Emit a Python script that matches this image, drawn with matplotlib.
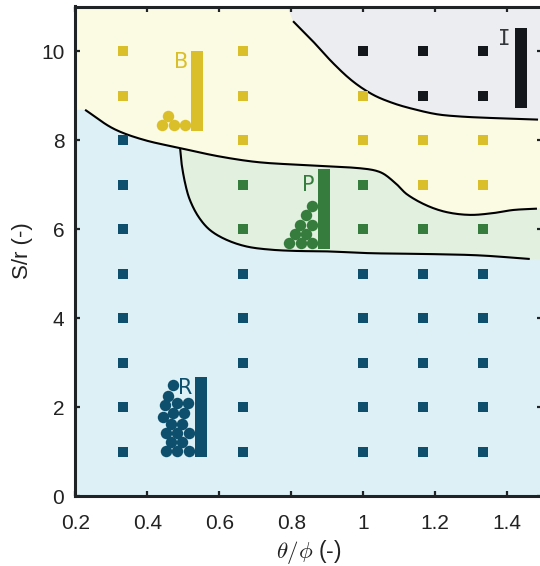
import numpy as np
import matplotlib
matplotlib.use("Agg")
import matplotlib.pyplot as plt

plt.rcParams['font.family'] = ['Liberation Sans', 'DejaVu Sans']
plt.rcParams['mathtext.fontset'] = 'cm'

W, H = 540, 566
XMAX = 1.497

C_R, C_P, C_B, C_I = '#0D4F6C', '#367C3D', '#DBBF2A', '#14171B'
BG_R, BG_P, BG_B, BG_I = '#DCF0F5', '#E2F0DF', '#FBFAE3', '#ECEDF0'

# Regime grid
rows_x = [1/3, 2/3, 1.0, 7/6, 4/3]
R_y = [[1, 2, 3, 4, 5, 6, 7, 8], [1, 2, 3, 4, 5], [1, 2, 3, 4, 5], [1, 2, 3, 4, 5], [1, 2, 3, 4, 5]]
P_y = [[], [6, 7], [6, 7], [6], [6]]
B_y = [[9, 10], [8, 9, 10], [8, 9], [7, 8], [7, 8]]
I_y = [[], [], [10], [9, 10], [9, 10]]

# Regime boundaries
upper_x = [.227, .305, .388, .491, .602, .713, .860, 1.0, 1.05, 1.09, 1.122, 1.177, 1.233, 1.297, 1.361, 1.417, 1.483]
upper_y = [8.68, 8.26, 8.01, 7.82, 7.63, 7.50, 7.43, 7.36, 7.27, 7.03, 6.78, 6.53, 6.38, 6.32, 6.36, 6.43, 6.46]
lower_x = [.491, .495, .505, .518, .542, .574, .620, .676, .741, .815, .9, 1.019, 1.186, 1.324, 1.463]
lower_y = [7.82, 7.48, 7.03, 6.66, 6.28, 5.98, 5.76, 5.61, 5.54, 5.51, 5.50, 5.46, 5.44, 5.41, 5.33]
top_x = [.805, .86, .916, .971, 1.027, 1.083, 1.138, 1.205, 1.269, 1.344, 1.486]
top_y = [10.67, 10.22, 9.73, 9.32, 9.02, 8.83, 8.70, 8.58, 8.53, 8.50, 8.46]

# Scale bars: x0, x1, y0, y1
bar_R = (.532, .565, .88, 2.69)
bar_P = (.874, .907, 5.56, 7.35)
bar_B = (.521, .555, 8.21, 10.0)
bar_I = (1.421, 1.455, 8.72, 10.52)

# Particle sketches
circ_B_x = [.457, .441, .474, .504]
circ_B_y = [8.53, 8.33, 8.33, 8.34]
circ_P_x = [.857, .840, .824, .858, .810, .841, .794, .827, .857]
circ_P_y = [6.52, 6.31, 6.10, 6.10, 5.89, 5.89, 5.69, 5.69, 5.69]
circ_R_x = [.472, .457, .449, .482, .514, .443, .472, .502, .466, .497, .451, .482, .515, .467, .497, .451, .483, .515]
circ_R_y = [2.49, 2.26, 2.04, 2.09, 2.09, 1.79, 1.87, 1.87, 1.63, 1.63, 1.42, 1.42, 1.42, 1.22, 1.22, 1.01, 1.01, 1.01]

xticks = [0.2, 0.4, 0.6, 0.8, 1.0, 1.2, 1.4]
xticklabels = ['0.2', '0.4', '0.6', '0.8', '1', '1.2', '1.4']
yticks = [0, 2, 4, 6, 8, 10]


def smooth(x, y, n=16):
    """Chord-parameterised cubic rendering of a hand-read boundary."""
    x, y = np.asarray(x, float), np.asarray(y, float)
    sx, sy = 360.0, 44.5
    p = np.column_stack([x * sx, y * sy])
    d = np.hypot(*np.diff(p, axis=0).T)
    m = np.zeros_like(p)
    m[1:-1] = (p[2:] - p[:-2]) / (d[1:] + d[:-1])[:, None]
    m[0] = (p[1] - p[0]) / d[0]
    m[-1] = (p[-1] - p[-2]) / d[-1]
    t = np.linspace(0, 1, n, endpoint=False)[:, None]
    out = []
    for i in range(len(p) - 1):
        h = d[i]
        out.append((2*t**3-3*t**2+1)*p[i] + (t**3-2*t**2+t)*h*m[i]
                   + (-2*t**3+3*t**2)*p[i+1] + (t**3-t**2)*h*m[i+1])
    out.append(p[-1][None])
    out = np.vstack(out)
    return out[:, 0] / sx, out[:, 1] / sy


fig = plt.figure(figsize=(W/100, H/100), dpi=100)
ax = fig.add_axes([75.4/W, 1-496.3/H, (542-75.4)/W, (496.3-6.5)/H])
ax.set_xlim(0.2, XMAX)
ax.set_ylim(0, 11)
ax.set_facecolor(BG_R)

ux, uy = smooth(upper_x, upper_y)
lx, ly = smooth(lower_x, lower_y)
tx, ty = smooth(top_x, top_y)

ax.fill(np.r_[.2, .2, ux, XMAX, XMAX], np.r_[11, upper_y[0], uy, uy[-1], 11], color=BG_B, lw=0, zorder=1)
m = ux >= lower_x[0]
ax.fill(np.r_[ux[m], XMAX, XMAX, lx[::-1]], np.r_[uy[m], uy[-1], ly[-1], ly[::-1]], color=BG_P, lw=0, zorder=1)
ax.fill(np.r_[.789, tx, XMAX, XMAX], np.r_[11, ty, ty[-1], 11], color=BG_I, lw=0, zorder=1)

for cx, cy in [(ux, uy), (lx, ly), (tx, ty)]:
    ax.plot(cx, cy, color='black', lw=1.5, zorder=2, solid_capstyle='butt')

for ys, c in [(R_y, C_R), (P_y, C_P), (B_y, C_B), (I_y, C_I)]:
    for x0, yy in zip(rows_x, ys):
        ax.scatter([x0]*len(yy), yy, marker='s', s=50, color=c, lw=0, zorder=3)

for (x0, x1, y0, y1), c in [(bar_R, C_R), (bar_P, C_P), (bar_B, C_B), (bar_I, C_I)]:
    ax.fill_between([x0, x1], y0, y1, color=c, lw=0, zorder=3)

for xs, ys, c in [(circ_R_x, circ_R_y, C_R), (circ_P_x, circ_P_y, C_P), (circ_B_x, circ_B_y, C_B)]:
    ax.scatter(xs, ys, s=68, color=c, lw=0, zorder=3)

ax.text(.493, 9.75, 'B', color=C_B, fontsize=15, family='DejaVu Sans', ha='center', va='center', zorder=4)
ax.text(.846, 7.0, 'P', color=C_P, fontsize=15, family='DejaVu Sans', ha='center', va='center', zorder=4)
ax.text(.505, 2.44, 'R', color=C_R, fontsize=15, family='DejaVu Sans', ha='center', va='center', zorder=4)
ax.text(1.392, 10.27, 'I', color='#33363A', fontsize=15, family='DejaVu Sans Mono', ha='center', va='center', zorder=4)

for s in ax.spines.values():
    s.set_linewidth(2.2)
    s.set_color('#1F2326')
    s.set_zorder(6)

ax.set_xticks(xticks, xticklabels)
ax.set_yticks(yticks)
ax.tick_params(direction='in', length=3.8, width=1.6, color='#1F2326', labelcolor='#222222',
               labelsize=15, top=True, right=True)
ax.tick_params(axis='x', pad=13)
ax.tick_params(axis='y', pad=8)
ax.set_xlabel(r'$\theta/\phi$ (-)', fontsize=16.5, color='#222222', labelpad=3)
ax.set_ylabel('S/r (-)', fontsize=16, color='#222222')
ax.yaxis.set_label_coords((33-75.4)/(542-75.4), (496.3-251)/(496.3-6.5))

fig.savefig('out.png', dpi=100)
